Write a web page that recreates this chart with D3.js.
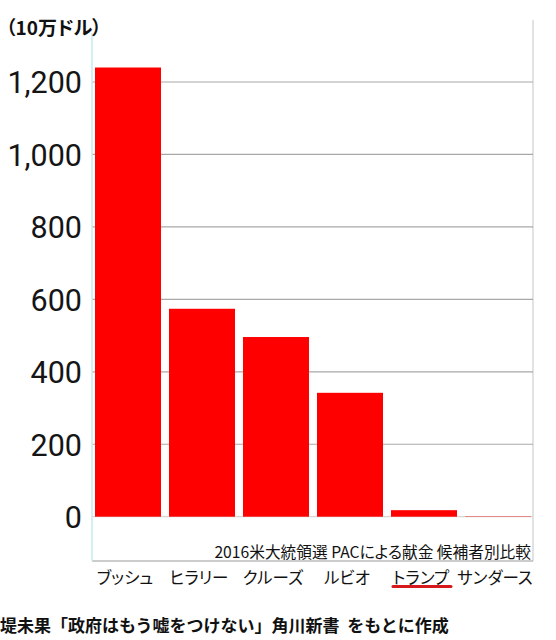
<!DOCTYPE html>
<html lang="ja">
<head>
<meta charset="UTF-8">
<title>2016米大統領選 PACによる献金</title>
<script src="https://d3js.org/d3.v7.min.js"></script>
<style>
  body { margin: 0; background: #fff; }
  svg { display: block; }
  .jp { font-family: "Noto Sans CJK JP", "Noto Sans", sans-serif; }
  .palt { font-feature-settings: "palt" 1; }
</style>
</head>
<body>
<script>
// candidates and PAC money (unit: 100k dollars)
const candidates = ["ブッシュ", "ヒラリー", "クルーズ", "ルビオ", "トランプ", "サンダース"];
const amounts = [1240, 574, 496, 342, 18, 1];
const yTicks = [0, 200, 400, 600, 800, 1000, 1200];
const highlight = "トランプ";

const width = 556, height = 640;
const plot = { left: 92, right: 533, top: 20, bottom: 561 };

const svg = d3.select("body").append("svg")
    .attr("width", width)
    .attr("height", height);

const x = d3.scaleBand()
    .domain(candidates)
    .range([91, 535])
    .paddingInner(0.108)
    .paddingOuter(0.054);

const y = d3.scaleLinear()
    .domain([0, 1200])
    .range([516.7, 82]);

// frame
svg.append("line")
    .attr("x1", plot.right).attr("x2", plot.right)
    .attr("y1", plot.top).attr("y2", plot.bottom)
    .attr("stroke", "#cfcfcf").attr("stroke-width", 1.2);
svg.append("line")
    .attr("x1", plot.left).attr("x2", plot.right)
    .attr("y1", plot.bottom).attr("y2", plot.bottom)
    .attr("stroke", "#9a9a9a").attr("stroke-width", 1.2);

// gridlines
svg.append("g")
    .selectAll("line")
    .data(yTicks)
    .enter().append("line")
    .attr("x1", plot.left).attr("x2", plot.right)
    .attr("y1", d => y(d)).attr("y2", d => y(d))
    .attr("stroke", d => d === 0 ? "#d6d6d6" : "#a8a8a8")
    .attr("stroke-width", 1.2);

// left axis line
svg.append("line")
    .attr("x1", plot.left).attr("x2", plot.left)
    .attr("y1", 33).attr("y2", plot.bottom)
    .attr("stroke", "#c4ecef").attr("stroke-width", 1.5);

// y tick labels
const yAxis = d3.axisLeft(y)
    .tickValues(yTicks)
    .tickSize(0)
    .tickPadding(0)
    .tickFormat(d3.format(","));
const gy = svg.append("g")
    .attr("transform", "translate(82,0)")
    .call(yAxis);
gy.select(".domain").remove();
gy.selectAll("text")
    .attr("font-family", "Roboto, sans-serif")
    .attr("font-size", 30.5)
    .attr("fill", "#151515")
    .attr("dy", "0.36em");

// bars
svg.append("g")
    .selectAll("rect")
    .data(candidates)
    .enter().append("rect")
    .attr("x", d => x(d))
    .attr("width", x.bandwidth())
    .attr("y", (d, i) => y(amounts[i]))
    .attr("height", (d, i) => y(0) - y(amounts[i]))
    .attr("fill", "#ff0000");

// x labels
svg.append("g")
    .selectAll("text")
    .data(candidates)
    .enter().append("text")
    .attr("class", "jp palt")
    .attr("x", d => x(d) + x.bandwidth() / 2 - 3)
    .attr("y", 584)
    .attr("text-anchor", "middle")
    .attr("font-size", 16.5)
    .attr("fill", "#111")
    .text(d => d);

// underline for Trump
svg.append("line")
    .attr("x1", x(highlight) + 2)
    .attr("x2", x(highlight) + 60)
    .attr("y1", 586.5).attr("y2", 586.5)
    .attr("stroke", "#d41a1a")
    .attr("stroke-width", 3)
    .attr("stroke-linecap", "round");

// caption inside plot
svg.append("text")
    .attr("class", "jp palt")
    .attr("x", 531)
    .attr("y", 558)
    .attr("text-anchor", "end")
    .attr("font-size", 15.7)
    .attr("fill", "#111")
    .text("2016米大統領選 PACによる献金 候補者別比較");

// unit label
svg.append("text")
    .attr("class", "jp palt")
    .attr("x", 6)
    .attr("y", 35)
    .attr("font-size", 19)
    .attr("font-weight", "bold")
    .attr("fill", "#111")
    .text("（10万ドル）");

// source
svg.append("text")
    .attr("class", "jp")
    .attr("x", 0)
    .attr("y", 632)
    .attr("font-size", 17)
    .attr("font-weight", "bold")
    .attr("fill", "#111")
    .attr("xml:space", "preserve")
    .style("white-space", "pre")
    .text("堤未果「政府はもう嘘をつけない」角川新書  をもとに作成");
</script>
</body>
</html>
